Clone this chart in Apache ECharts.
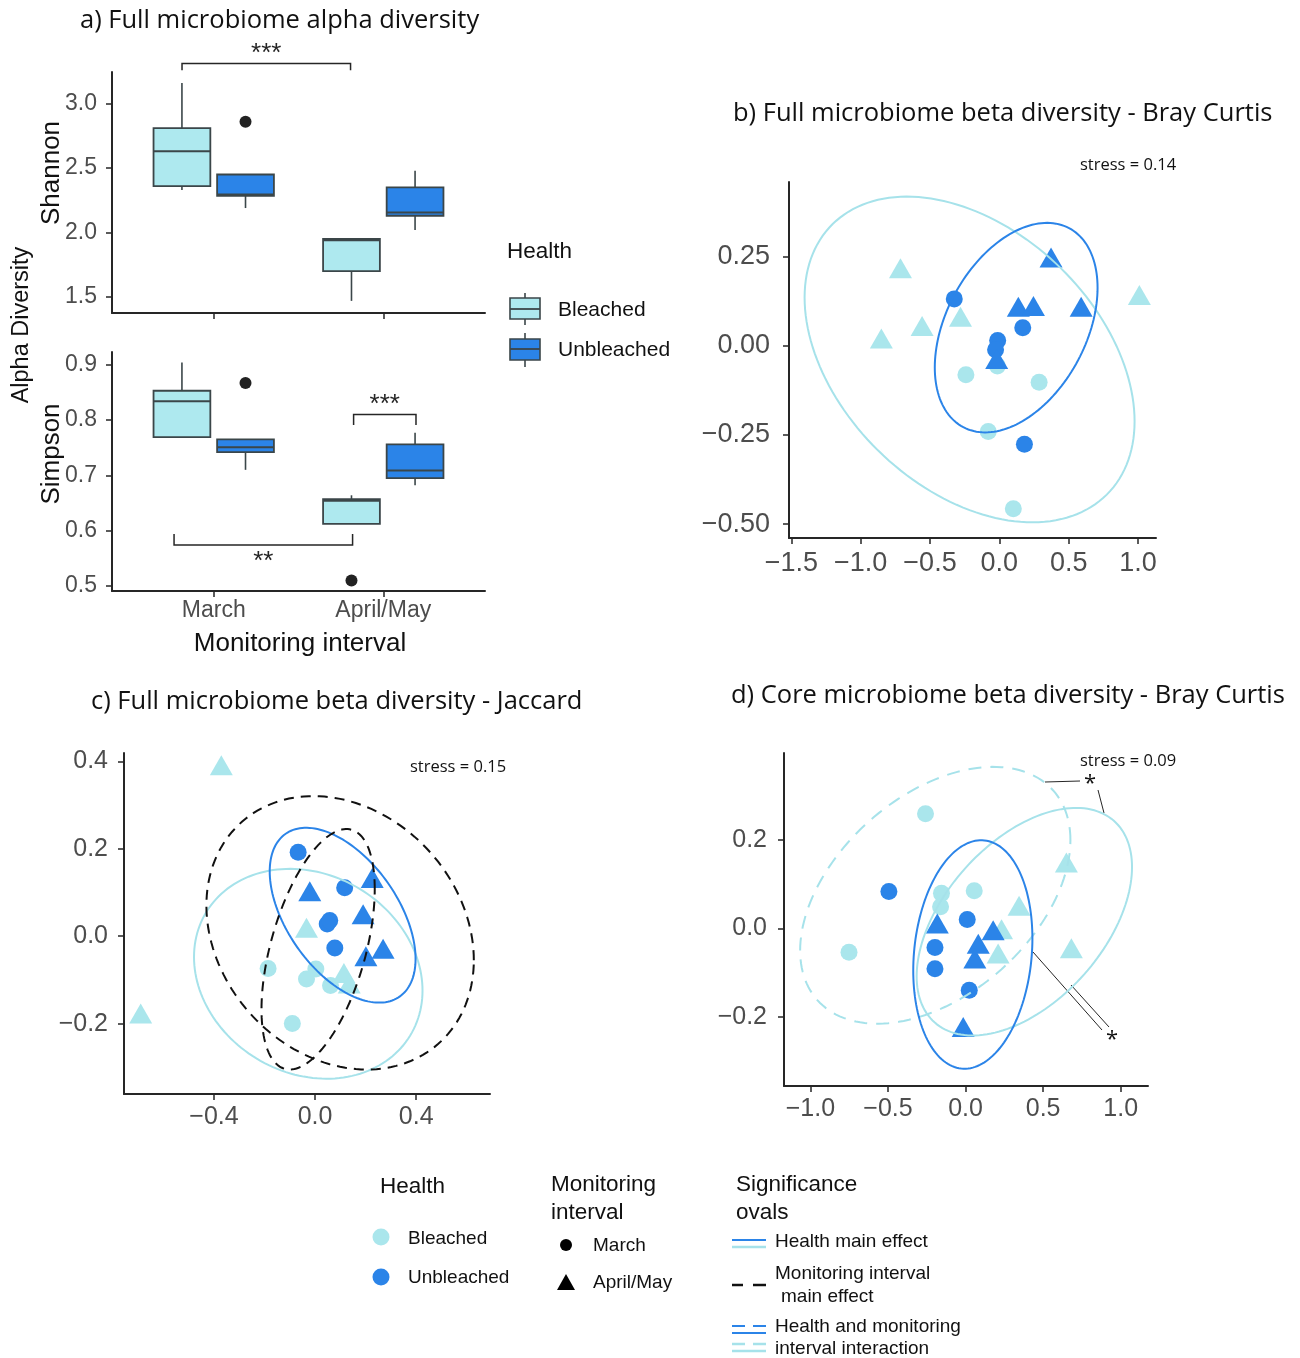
<!DOCTYPE html>
<html>
<head>
<meta charset="utf-8">
<script src="https://cdn.jsdelivr.net/npm/echarts@6/dist/echarts.min.js"></script>
<style>
  html, body { margin: 0; padding: 0; background: #fff; }
  #chart { width: 1300px; height: 1358px; }
</style>
</head>
<body>
<div id="chart"></div>
<script>
const LIGHT = '#aee9ef'
const BLUE = '#2b84e8'
const LIGHT_PT = '#aae6ec'
const LIGHT_LINE = '#a6e2ea'
const INK = '#262626'
const BOX_EDGE = '#3b4649'
const TICK_GRAY = '#4d4d4d'
const SANS = '"Liberation Sans", Arial, sans-serif'
const HUMANIST = '"Open Sans", "Noto Sans", sans-serif'

// a) alpha diversity, box stats per interval: [low, q1, median, q3, high]
const intervals = ['March', 'April/May']
const shannonBleached = [[2.33, 2.36, 2.63, 2.81, 3.16], [1.47, 1.70, 1.94, 1.95, 1.955]]
const shannonUnbleached = [[2.19, 2.285, 2.295, 2.45, 2.45], [2.02, 2.13, 2.155, 2.35, 2.48]]
const shannonOutliers = [[0, 1, 2.86]] // [interval, health, value]
const simpsonBleached = [[0.768, 0.769, 0.834, 0.853, 0.904], [0.6125, 0.6125, 0.654, 0.657, 0.664]]
const simpsonUnbleached = [[0.710, 0.742, 0.751, 0.765, 0.765], [0.682, 0.695, 0.709, 0.756, 0.777]]
const simpsonOutliers = [[0, 1, 0.867], [1, 0, 0.510]]
const shannonTicks = [1.5, 2.0, 2.5, 3.0]
const simpsonTicks = [0.5, 0.6, 0.7, 0.8, 0.9]
// significance brackets: [x from, x to, bar y, end y]
const shannonBrackets = [[0.813, 1.807, 3.31, 3.258]]
const shannonStars = ['***']
const simpsonBrackets = [[1.825, 2.193, 0.810, 0.791], [0.766, 1.819, 0.574, 0.594]]
const simpsonStars = ['***', '**']

// b) Bray Curtis NMDS
const brayBleachedMarch = [[-0.241, -0.081], [-0.014, -0.056], [0.287, -0.102], [-0.080, -0.240], [0.101, -0.457]]
const brayBleachedApril = [[-0.713, 0.218], [-0.851, 0.021], [-0.557, 0.056], [-0.280, 0.082], [1.010, 0.143]]
const brayUnbleachedMarch = [[-0.325, 0.132], [0.169, 0.051], [-0.012, 0.015], [-0.027, -0.011], [0.181, -0.276]]
const brayUnbleachedApril = [[0.373, 0.248], [0.137, 0.110], [0.246, 0.112], [0.590, 0.110], [-0.019, -0.037]]
// ellipses: [cx, cy, rx, ry, rho]
const brayEllipseBleached = [-0.2145, -0.038, 1.19, 0.457, -0.38]
const brayEllipseUnbleached = [0.1215, 0.0513, 0.587, 0.294, 0.38]
const brayXTicks = [-1.5, -1.0, -0.5, 0, 0.5, 1.0]
const brayYTicks = [-0.5, -0.25, 0, 0.25]

// c) Jaccard NMDS
const jacBleachedMarch = [[-0.186, -0.074], [0.003, -0.075], [-0.034, -0.098], [0.061, -0.113], [-0.090, -0.200]]
const jacBleachedApril = [[-0.371, 0.391], [-0.690, -0.177], [-0.034, 0.019], [0.114, -0.084], [0.135, -0.108]]
const jacUnbleachedMarch = [[-0.067, 0.192], [0.117, 0.111], [0.048, 0.028], [0.058, 0.036], [0.078, -0.027]]
const jacUnbleachedApril = [[-0.021, 0.103], [0.226, 0.133], [0.190, 0.050], [0.269, -0.029], [0.201, -0.046]]
const jacEllipseBleached = [-0.027, -0.086, 0.452, 0.240, -0.16]
const jacEllipseUnbleached = [0.109, 0.048, 0.2885, 0.200, -0.5]
const jacEllipseWide = [0.099, 0.0077, 0.529, 0.3127, -0.2]
const jacEllipseNarrow = [0.012, -0.030, 0.224, 0.275, 0.5]
const jacXTicks = [-0.4, 0, 0.4]
const jacYTicks = [-0.2, 0, 0.2, 0.4]

// d) core Bray Curtis NMDS
const coreBleachedMarch = [[-0.258, 0.259], [-0.751, -0.054], [-0.155, 0.079], [-0.161, 0.049], [0.056, 0.085]]
const coreBleachedApril = [[0.650, 0.149], [0.345, 0.051], [0.232, -0.002], [0.210, -0.057], [0.682, -0.045]]
const coreUnbleachedMarch = [[-0.494, 0.083], [0.011, 0.020], [-0.197, -0.043], [-0.197, -0.091], [0.024, -0.140]]
const coreUnbleachedApril = [[-0.182, 0.011], [0.178, -0.004], [0.082, -0.035], [0.060, -0.068], [-0.015, -0.223]]
const coreEllipseUnbleached = [0.047, -0.059, 0.384, 0.258, 0.14]
const coreEllipseBleachedSolid = [0.379, 0.015, 0.694, 0.257, 0.48]
const coreEllipseBleachedDashed = [-0.195, 0.0747, 0.871, 0.290, 0.43]
const coreXTicks = [-1.0, -0.5, 0, 0.5, 1.0]
const coreYTicks = [-0.2, 0, 0.2]

const DODGE = 0.1875
const BOX_WIDTH = 0.335

function fmt(v, digits) {
  const s = Math.abs(v).toFixed(digits)
  return v < -1e-9 ? '\u2212' + s : s
}

function valueAxis(gridIndex, min, max, ticks, o) {
  return {
    type: 'value', gridIndex, min, max,
    axisLine: { show: true, onZero: false, lineStyle: { color: INK, width: 2 } },
    axisTick: { show: true, customValues: ticks, length: 6, lineStyle: { color: INK, width: 1.5 } },
    axisLabel: {
      show: o.showLabels !== false, customValues: ticks, fontSize: o.size, margin: o.margin,
      color: TICK_GRAY, fontFamily: SANS, formatter: o.formatter || (v => fmt(v, o.digits))
    },
    splitLine: { show: false }
  }
}

function intervalAxis(gridIndex, showLabels) {
  return valueAxis(gridIndex, 0.4, 2.6, [1, 2], {
    showLabels, size: 23, margin: 8, formatter: v => intervals[Math.round(v) - 1]
  })
}

function boxSeries(gridIndex, stats, health, fill) {
  return {
    type: 'custom', xAxisIndex: gridIndex, yAxisIndex: gridIndex, z: 2, silent: true,
    encode: { x: 0, y: [1, 2, 3, 4, 5] },
    data: stats.map((s, i) => [i + 1 + (health ? DODGE : -DODGE)].concat(s)),
    renderItem: (params, api) => {
      const x = api.value(0)
      const yAt = k => api.coord([x, api.value(k)])[1]
      const cx = api.coord([x, 0])[0]
      const w = api.size([BOX_WIDTH, 0])[0]
      const edge = { stroke: BOX_EDGE, lineWidth: 1.6 }
      const q1 = yAt(2), q3 = yAt(4)
      return {
        type: 'group',
        children: [
          { type: 'line', shape: { x1: cx, y1: q1, x2: cx, y2: yAt(1) }, style: edge },
          { type: 'line', shape: { x1: cx, y1: q3, x2: cx, y2: yAt(5) }, style: edge },
          { type: 'rect', shape: { x: cx - w / 2, y: q3, width: w, height: q1 - q3 }, style: { fill, stroke: BOX_EDGE, lineWidth: 1.8 } },
          { type: 'line', shape: { x1: cx - w / 2, y1: yAt(3), x2: cx + w / 2, y2: yAt(3) }, style: { stroke: BOX_EDGE, lineWidth: 2 } }
        ]
      }
    }
  }
}

function outlierSeries(gridIndex, outliers) {
  return {
    type: 'scatter', xAxisIndex: gridIndex, yAxisIndex: gridIndex, z: 3, silent: true,
    symbolSize: 12, itemStyle: { color: '#222', opacity: 1 },
    data: outliers.map(o => [o[0] + 1 + (o[1] ? DODGE : -DODGE), o[2]])
  }
}

function bracketSeries(gridIndex, brackets, stars) {
  return {
    type: 'custom', xAxisIndex: gridIndex, yAxisIndex: gridIndex, z: 3, silent: true, clip: false,
    encode: { x: [0, 1], y: [2, 3] },
    data: brackets,
    renderItem: (params, api) => {
      const p1 = api.coord([api.value(0), api.value(3)])
      const p2 = api.coord([api.value(0), api.value(2)])
      const p3 = api.coord([api.value(1), api.value(2)])
      const p4 = api.coord([api.value(1), api.value(3)])
      const above = api.value(3) < api.value(2)
      return {
        type: 'group',
        children: [
          { type: 'polyline', shape: { points: [p1, p2, p3, p4] }, style: { stroke: INK, lineWidth: 1.5, fill: null } },
          {
            type: 'text', x: (p2[0] + p3[0]) / 2, y: above ? p2[1] + 3 : p2[1] + 30,
            style: { text: stars[params.dataIndex], fill: INK, fontSize: 26, fontFamily: SANS, textAlign: 'center', textVerticalAlign: 'bottom' }
          }
        ]
      }
    }
  }
}

function pointSeries(gridIndex, data, color, symbol) {
  return {
    type: 'scatter', xAxisIndex: gridIndex, yAxisIndex: gridIndex, z: 3, silent: true,
    symbol, symbolSize: symbol === 'circle' ? 17 : [23, 20],
    itemStyle: { color, opacity: 1 }, data
  }
}

function ellipseSeries(gridIndex, ell, color, dash) {
  return {
    type: 'custom', xAxisIndex: gridIndex, yAxisIndex: gridIndex, z: 4, silent: true,
    encode: { x: 0, y: 1 },
    data: [ell],
    renderItem: (params, api) => {
      const [cx, cy, rx, ry, rho] = [0, 1, 2, 3, 4].map(i => api.value(i))
      const s = Math.sqrt(1 - rho * rho)
      const pts = []
      for (let k = 0; k <= 160; k++) {
        const t = (k / 160) * 2 * Math.PI
        pts.push(api.coord([cx + rx * Math.cos(t), cy + ry * (rho * Math.cos(t) + s * Math.sin(t))]))
      }
      return { type: 'polyline', shape: { points: pts }, style: { stroke: color, lineWidth: 2, fill: null, lineDash: dash || null } }
    }
  }
}

function nmdsSeries(gridIndex, bm, ba, um, ua) {
  return [
    pointSeries(gridIndex, bm, LIGHT_PT, 'circle'),
    pointSeries(gridIndex, ba, LIGHT_PT, 'triangle'),
    pointSeries(gridIndex, um, BLUE, 'circle'),
    pointSeries(gridIndex, ua, BLUE, 'triangle')
  ]
}

function text(str, x, y, o = {}) {
  return {
    type: 'text', x, y, rotation: o.rotation || 0, silent: true,
    style: {
      text: str, fill: o.color || '#111', fontSize: o.size || 19, fontFamily: o.family || SANS,
      textAlign: o.align || 'left', textVerticalAlign: 'middle'
    }
  }
}
function line(x1, y1, x2, y2, color, width, dash) {
  return { type: 'line', silent: true, shape: { x1, y1, x2, y2 }, style: { stroke: color, lineWidth: width || 2, lineDash: dash || null } }
}

const titleStyle = { size: 25.5, family: HUMANIST, color: '#111' }
const stressStyle = { size: 16.5, family: HUMANIST, color: '#111' }

const graphics = [
  text('a) Full microbiome alpha diversity', 80, 21, titleStyle),
  text('b) Full microbiome beta diversity - Bray Curtis', 733, 114, titleStyle),
  text('c) Full microbiome beta diversity - Jaccard', 91, 702, titleStyle),
  text('d) Core microbiome beta diversity - Bray Curtis', 731, 696, titleStyle),
  text('stress = 0.14', 1080, 165, stressStyle),
  text('stress = 0.15', 410, 767, stressStyle),
  text('stress = 0.09', 1080, 761, stressStyle),
  // a) axis names
  text('Shannon', 52, 173, { size: 26, align: 'center', rotation: Math.PI / 2 }),
  text('Simpson', 52, 454, { size: 26, align: 'center', rotation: Math.PI / 2 }),
  text('Alpha Diversity', 22, 325, { size: 23.5, align: 'center', rotation: Math.PI / 2 }),
  text('Monitoring interval', 300, 644, { size: 26, align: 'center' }),
  // a) legend
  text('Health', 507, 252, { size: 22.5 }),
  line(525, 293, 525, 325, BOX_EDGE, 1.6),
  { type: 'rect', silent: true, shape: { x: 510, y: 298, width: 30, height: 21 }, style: { fill: LIGHT, stroke: BOX_EDGE, lineWidth: 1.6 } },
  line(510, 309, 540, 309, BOX_EDGE, 1.8),
  line(525, 333, 525, 367, BOX_EDGE, 1.6),
  { type: 'rect', silent: true, shape: { x: 510, y: 339, width: 30, height: 21 }, style: { fill: BLUE, stroke: BOX_EDGE, lineWidth: 1.6 } },
  line(510, 349, 540, 349, BOX_EDGE, 1.8),
  text('Bleached', 558, 310, { size: 21 }),
  text('Unbleached', 558, 350, { size: 21 }),
  // d) annotation leaders
  line(1045, 782, 1080, 781, INK, 1),
  line(1098, 790, 1104, 813, INK, 1),
  line(1033, 952, 1102, 1030, INK, 1),
  line(1071, 985, 1109, 1027, INK, 1),
  text('*', 1090, 784, { size: 22, align: 'center', family: HUMANIST }),
  text('*', 1112, 1040, { size: 22, align: 'center', family: HUMANIST }),
  // bottom legend: health
  text('Health', 380, 1187, { size: 22.5 }),
  { type: 'circle', silent: true, shape: { cx: 381, cy: 1237, r: 8.5 }, style: { fill: LIGHT_PT } },
  { type: 'circle', silent: true, shape: { cx: 381, cy: 1277, r: 8.5 }, style: { fill: BLUE } },
  text('Bleached', 408, 1239, { size: 19 }),
  text('Unbleached', 408, 1278, { size: 19 }),
  // monitoring interval
  text('Monitoring', 551, 1185, { size: 22.5 }),
  text('interval', 551, 1213, { size: 22.5 }),
  { type: 'circle', silent: true, shape: { cx: 566, cy: 1245, r: 6 }, style: { fill: '#000' } },
  { type: 'polygon', silent: true, shape: { points: [[566, 1274], [557, 1290], [575, 1290]] }, style: { fill: '#000' } },
  text('March', 593, 1246, { size: 19 }),
  text('April/May', 593, 1283, { size: 19 }),
  // significance ovals
  text('Significance', 736, 1185, { size: 22.5 }),
  text('ovals', 736, 1213, { size: 22.5 }),
  line(732, 1240, 766, 1240, BLUE, 2),
  line(732, 1247, 766, 1247, LIGHT_LINE, 2.5),
  text('Health main effect', 775, 1242, { size: 19 }),
  line(732, 1285, 743, 1285, '#111', 2.5),
  line(753, 1285, 766, 1285, '#111', 2.5),
  text('Monitoring interval', 775, 1274, { size: 19 }),
  text('main effect', 781, 1297, { size: 19 }),
  line(732, 1326, 745, 1326, BLUE, 2),
  line(753, 1326, 766, 1326, BLUE, 2),
  line(732, 1333, 766, 1333, BLUE, 2),
  line(732, 1344, 745, 1344, LIGHT_LINE, 2.5),
  line(753, 1344, 766, 1344, LIGHT_LINE, 2.5),
  line(732, 1351, 766, 1351, LIGHT_LINE, 2.5),
  text('Health and monitoring', 775, 1327, { size: 19 }),
  text('interval interaction', 775, 1349, { size: 19 })
]

const chart = echarts.init(document.getElementById('chart'), null, { renderer: 'canvas' })
chart.setOption({
  backgroundColor: '#fff',
  animation: false,
  grid: [
    { left: 112, top: 72, width: 373, height: 241 },
    { left: 112, top: 352, width: 373, height: 239 },
    { left: 789, top: 182, width: 367, height: 356 },
    { left: 124, top: 753, width: 366, height: 341 },
    { left: 784, top: 753, width: 364, height: 333 }
  ],
  xAxis: [
    intervalAxis(0, false),
    intervalAxis(1, true),
    valueAxis(2, -1.517, 1.13, brayXTicks, { size: 27, margin: 12, digits: 1 }),
    valueAxis(3, -0.756, 0.692, jacXTicks, { size: 25, margin: 11, digits: 1 }),
    valueAxis(4, -1.17, 1.176, coreXTicks, { size: 25, margin: 11, digits: 1 })
  ],
  yAxis: [
    valueAxis(0, 1.376, 3.245, shannonTicks, { size: 23, margin: 15, digits: 1 }),
    valueAxis(1, 0.491, 0.923, simpsonTicks, { size: 23, margin: 15, digits: 1 }),
    valueAxis(2, -0.539, 0.46, brayYTicks, { size: 27, margin: 19, digits: 2 }),
    valueAxis(3, -0.361, 0.419, jacYTicks, { size: 25, margin: 16, digits: 1 }),
    valueAxis(4, -0.356, 0.396, coreYTicks, { size: 25, margin: 17, digits: 1 })
  ],
  series: [
    boxSeries(0, shannonBleached, 0, LIGHT),
    boxSeries(0, shannonUnbleached, 1, BLUE),
    outlierSeries(0, shannonOutliers),
    bracketSeries(0, shannonBrackets, shannonStars),
    boxSeries(1, simpsonBleached, 0, LIGHT),
    boxSeries(1, simpsonUnbleached, 1, BLUE),
    outlierSeries(1, simpsonOutliers),
    bracketSeries(1, simpsonBrackets, simpsonStars),

    ...nmdsSeries(2, brayBleachedMarch, brayBleachedApril, brayUnbleachedMarch, brayUnbleachedApril),
    ellipseSeries(2, brayEllipseBleached, LIGHT_LINE),
    ellipseSeries(2, brayEllipseUnbleached, BLUE),

    ...nmdsSeries(3, jacBleachedMarch, jacBleachedApril, jacUnbleachedMarch, jacUnbleachedApril),
    ellipseSeries(3, jacEllipseBleached, LIGHT_LINE),
    ellipseSeries(3, jacEllipseUnbleached, BLUE),
    ellipseSeries(3, jacEllipseWide, '#111', [10, 7]),
    ellipseSeries(3, jacEllipseNarrow, '#111', [10, 7]),

    ...nmdsSeries(4, coreBleachedMarch, coreBleachedApril, coreUnbleachedMarch, coreUnbleachedApril),
    ellipseSeries(4, coreEllipseBleachedDashed, LIGHT_LINE, [13, 9]),
    ellipseSeries(4, coreEllipseBleachedSolid, LIGHT_LINE),
    ellipseSeries(4, coreEllipseUnbleached, BLUE)
  ],
  graphic: { elements: graphics }
})
</script>
</body>
</html>
